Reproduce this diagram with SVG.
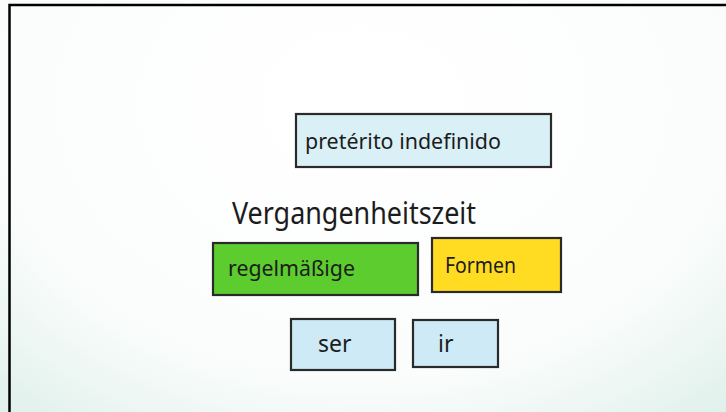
<svg xmlns="http://www.w3.org/2000/svg" width="726" height="412" viewBox="0 0 726 412">
<defs>
<radialGradient id="bg" cx="0.5" cy="0.25" r="0.85" gradientTransform="translate(0.5 0.25) scale(1 1.3) translate(-0.5 -0.25)">
<stop offset="0" stop-color="#ffffff"/>
<stop offset="0.6" stop-color="#fbfdfc"/>
<stop offset="1" stop-color="#d6ece4"/>
</radialGradient>
<style>
.box{stroke:#2a2a2a;stroke-width:2.2}
.blue{fill:#cdeaf6}
.lblue{fill:#daf0f7}
.green{fill:#5dcc2f}
.yellow{fill:#ffdc22}
.t{font-family:"Noto Sans","DejaVu Sans",sans-serif;fill:#1c1c1c;text-anchor:start}
</style>
</defs>
<rect x="0" y="0" width="726" height="412" fill="url(#bg)"/>
<path d="M9.5 412 V5 H726" fill="none" stroke="#000" stroke-width="2.5"/>
<g id="connectors"></g>
<g id="node-preterito">
<rect class="box lblue" x="296" y="114" width="255" height="53"/>
<text class="t" x="305" y="149" font-size="22" textLength="196" lengthAdjust="spacingAndGlyphs">pretérito indefinido</text>
</g>
<g id="node-vergangenheitszeit">
<text class="t" x="232" y="224" font-size="31" textLength="244" lengthAdjust="spacingAndGlyphs">Vergangenheitszeit</text>
</g>
<g id="node-regelmaessige">
<rect class="box green" x="213" y="243" width="205" height="52"/>
<text class="t" x="228" y="276" font-size="21" textLength="127" lengthAdjust="spacingAndGlyphs">regelmäßige</text>
</g>
<g id="node-formen">
<rect class="box yellow" x="432" y="238" width="129" height="54"/>
<text class="t" x="445" y="273" font-size="22" textLength="71" lengthAdjust="spacingAndGlyphs">Formen</text>
</g>
<g id="node-ser">
<rect class="box blue" x="291" y="319" width="104" height="51"/>
<text class="t" x="318" y="352" font-size="23">ser</text>
</g>
<g id="node-ir">
<rect class="box blue" x="413" y="320" width="85" height="47"/>
<text class="t" x="438" y="352" font-size="23">ir</text>
</g>
</svg>
